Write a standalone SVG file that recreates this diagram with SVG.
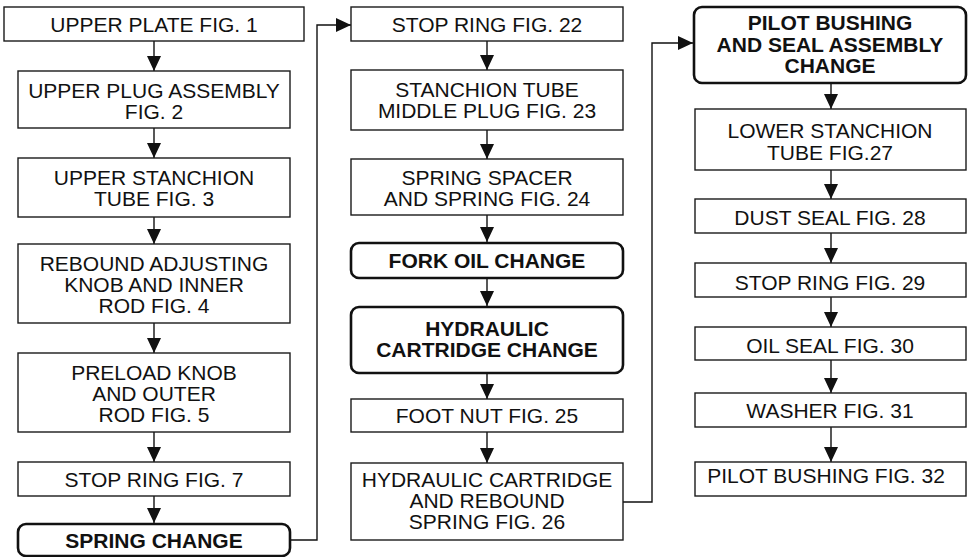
<svg xmlns="http://www.w3.org/2000/svg" width="968" height="557" viewBox="0 0 968 557">
<style>
.b{fill:#fff;stroke:#1a1a1a;stroke-width:1.4}
.k{fill:#fff;stroke:#111;stroke-width:2.6}
.t{font-family:"Liberation Sans",Arial,sans-serif;font-size:21px;fill:#111;text-anchor:middle}
.tb{font-family:"Liberation Sans",Arial,sans-serif;font-size:21px;font-weight:bold;fill:#111;text-anchor:middle}
.c{fill:none;stroke:#111;stroke-width:1.4}
</style>
<defs>
<marker id="ah" viewBox="0 0 15 14" refX="15" refY="7" markerWidth="15" markerHeight="14" markerUnits="userSpaceOnUse" orient="auto"><path d="M0,0 L15,7 L0,14 z" fill="#111"/></marker>
</defs>
<rect width="968" height="557" fill="#fff"/>
<g id="connectors">
<path class="c" marker-end="url(#ah)" d="M154,41 V71"/>
<path class="c" marker-end="url(#ah)" d="M154,128 V158"/>
<path class="c" marker-end="url(#ah)" d="M154,217 V244"/>
<path class="c" marker-end="url(#ah)" d="M154,323 V353"/>
<path class="c" marker-end="url(#ah)" d="M154,432 V462"/>
<path class="c" marker-end="url(#ah)" d="M154,496 V523"/>
<path class="c" marker-end="url(#ah)" d="M291,540 H317 V25 H351"/>
<path class="c" marker-end="url(#ah)" d="M487,41 V70"/>
<path class="c" marker-end="url(#ah)" d="M487,130 V159"/>
<path class="c" marker-end="url(#ah)" d="M487,215 V242"/>
<path class="c" marker-end="url(#ah)" d="M487,278 V306"/>
<path class="c" marker-end="url(#ah)" d="M487,373 V399"/>
<path class="c" marker-end="url(#ah)" d="M487,432 V463"/>
<path class="c" marker-end="url(#ah)" d="M623,502 H652 V43 H693"/>
<path class="c" marker-end="url(#ah)" d="M831,83 V109"/>
<path class="c" marker-end="url(#ah)" d="M831,170 V199"/>
<path class="c" marker-end="url(#ah)" d="M831,233 V263"/>
<path class="c" marker-end="url(#ah)" d="M831,297 V327"/>
<path class="c" marker-end="url(#ah)" d="M831,360 V393"/>
<path class="c" marker-end="url(#ah)" d="M831,427 V462"/>
</g>
<g id="n1"><rect class="b" x="4" y="7" width="300" height="34"/><text class="t" x="154" y="32">UPPER PLATE FIG. 1</text></g>
<g id="n2"><rect class="b" x="18" y="71" width="272" height="57"/><text class="t" x="154" y="98">UPPER PLUG ASSEMBLY<tspan x="154" y="119">FIG. 2</tspan></text></g>
<g id="n3"><rect class="b" x="18" y="158" width="272" height="59"/><text class="t" x="154" y="185">UPPER STANCHION<tspan x="154" y="206">TUBE FIG. 3</tspan></text></g>
<g id="n4"><rect class="b" x="18" y="244" width="272" height="79"/><text class="t" x="154" y="270.5">REBOUND ADJUSTING<tspan x="154" y="291.7">KNOB AND INNER</tspan><tspan x="154" y="313">ROD FIG. 4</tspan></text></g>
<g id="n5"><rect class="b" x="18" y="353" width="272" height="79"/><text class="t" x="154" y="379.5">PRELOAD KNOB<tspan x="154" y="400.7">AND OUTER</tspan><tspan x="154" y="422">ROD FIG. 5</tspan></text></g>
<g id="n6"><rect class="b" x="18" y="462" width="272" height="34"/><text class="t" x="154" y="487">STOP RING FIG. 7</text></g>
<g id="n7"><rect class="k" x="18" y="524" width="272" height="32" rx="8"/><text class="tb" x="154" y="548">SPRING CHANGE</text></g>
<g id="n8"><rect class="b" x="351" y="7" width="272" height="34"/><text class="t" x="487" y="32">STOP RING FIG. 22</text></g>
<g id="n9"><rect class="b" x="351" y="70" width="272" height="60"/><text class="t" x="487" y="97">STANCHION TUBE<tspan x="487" y="118.3">MIDDLE PLUG FIG. 23</tspan></text></g>
<g id="n10"><rect class="b" x="351" y="159" width="272" height="56"/><text class="t" x="487" y="185">SPRING SPACER<tspan x="487" y="206">AND SPRING FIG. 24</tspan></text></g>
<g id="n11"><rect class="k" x="351" y="243" width="272" height="35" rx="8"/><text class="tb" x="487" y="268">FORK OIL CHANGE</text></g>
<g id="n12"><rect class="k" x="351" y="307" width="272" height="66" rx="8"/><text class="tb" x="487" y="336">HYDRAULIC<tspan x="487" y="357.3">CARTRIDGE CHANGE</tspan></text></g>
<g id="n13"><rect class="b" x="351" y="399" width="272" height="33"/><text class="t" x="487" y="422.7">FOOT NUT FIG. 25</text></g>
<g id="n14"><rect class="b" x="351" y="463" width="272" height="77"/><text class="t" x="487" y="487.3">HYDRAULIC CARTRIDGE<tspan x="487" y="508.3">AND REBOUND</tspan><tspan x="487" y="529.3">SPRING FIG. 26</tspan></text></g>
<g id="n15"><rect class="k" x="694" y="7" width="272" height="76" rx="8"/><text class="tb" x="830" y="30">PILOT BUSHING<tspan x="830" y="51.7">AND SEAL ASSEMBLY</tspan><tspan x="830" y="72.7">CHANGE</tspan></text></g>
<g id="n16"><rect class="b" x="695" y="109" width="271" height="61"/><text class="t" x="830" y="138.3">LOWER STANCHION<tspan x="830" y="160">TUBE FIG.27</tspan></text></g>
<g id="n17"><rect class="b" x="695" y="199" width="271" height="34"/><text class="t" x="830" y="225">DUST SEAL FIG. 28</text></g>
<g id="n18"><rect class="b" x="695" y="263" width="271" height="34"/><text class="t" x="830" y="290">STOP RING FIG. 29</text></g>
<g id="n19"><rect class="b" x="695" y="327" width="271" height="33"/><text class="t" x="830" y="353.3">OIL SEAL FIG. 30</text></g>
<g id="n20"><rect class="b" x="695" y="393" width="271" height="34"/><text class="t" x="830" y="418.3">WASHER FIG. 31</text></g>
<g id="n21"><rect class="b" x="695" y="462" width="271" height="34"/><text class="t" x="826" y="483.3">PILOT BUSHING FIG. 32</text></g>
</svg>
